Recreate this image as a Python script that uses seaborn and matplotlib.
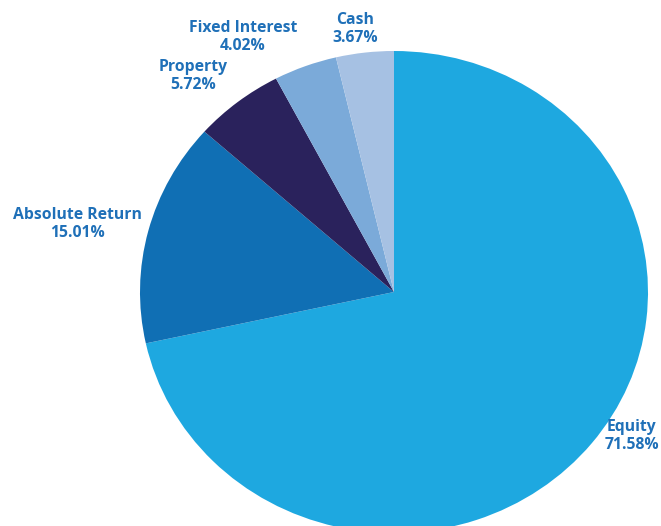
import matplotlib
matplotlib.use('Agg')
import matplotlib.pyplot as plt
import seaborn as sns

sns.set_theme(style='white')
plt.rcParams['font.family'] = ['Open Sans', 'DejaVu Sans']

# asset allocation, clockwise from 12 o'clock
labels = ['Equity', 'Absolute Return', 'Property', 'Fixed Interest', 'Cash']
shares = [71.58, 15.01, 5.72, 4.02, 3.67]
colors = sns.color_palette(['#1ea8e0', '#106fb4', '#2a225c', '#7baad9', '#a6c1e3'])

# label anchor points in figure pixels (x, y from top)
label_pos = [(632, 436), (77, 224), (193, 76), (243, 37), (355, 29)]

W, H = 661, 526
fig = plt.figure(figsize=(W / 100, H / 100), dpi=100)

# pie centre ~ (394, 292) px, slightly wider than tall
cx, cy, rx, ry = 394, 292, 254, 241
ax = fig.add_axes([(cx - rx) / W, (H - cy - ry) / H, 2 * rx / W, 2 * ry / H])
ax.pie(shares, colors=colors, startangle=90, counterclock=False,
       radius=1, wedgeprops=dict(linewidth=0))
ax.set_aspect('auto')
ax.set_xlim(-1, 1)
ax.set_ylim(-1, 1)
ax.axis('off')

for name, val, (x, y) in zip(labels, shares, label_pos):
    fig.text(x / W, 1 - y / H, f'{name}\n{val:.2f}%', ha='center', va='center',
             fontsize=11.3, fontweight='bold', color='#1f70b8', linespacing=1.15)

fig.savefig('out.png', dpi=100, facecolor='white')
